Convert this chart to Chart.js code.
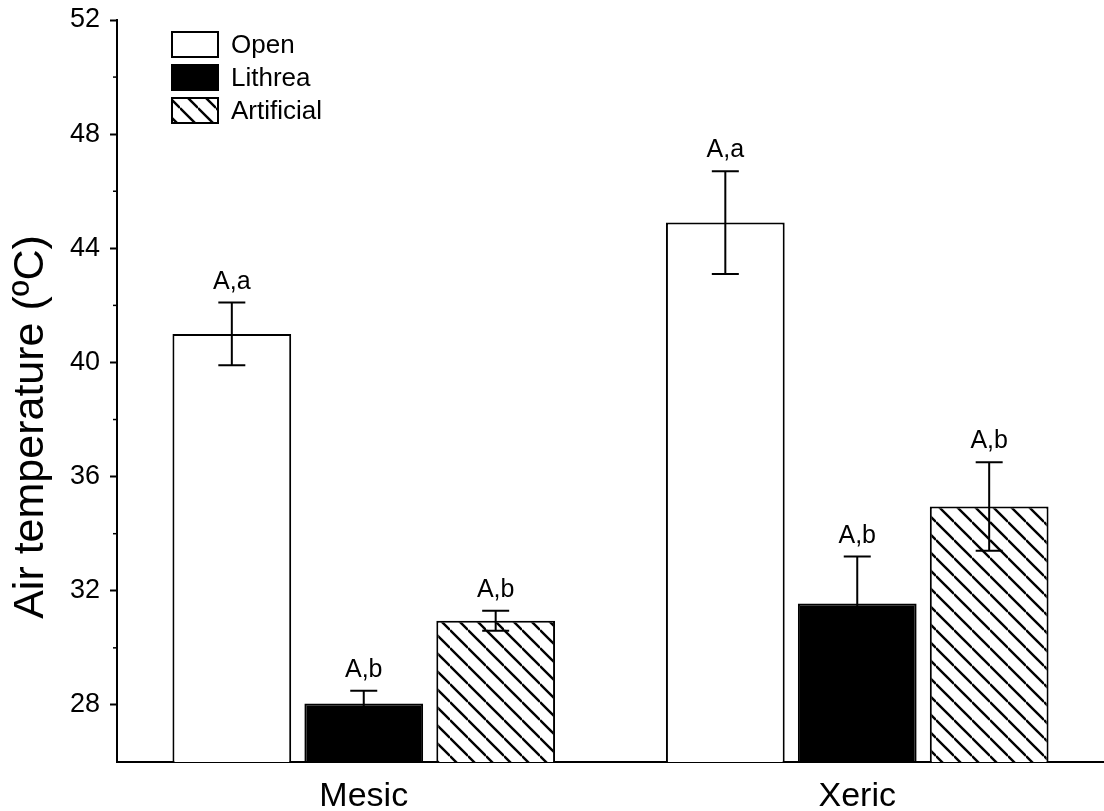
<!DOCTYPE html>
<html>
<head>
<meta charset="utf-8">
<title>Air temperature by site</title>
<script src="https://cdn.jsdelivr.net/npm/chart.js@4/dist/chart.umd.min.js"></script>
<style>
  body { margin: 0; background: #fff; }
  #chart { display: block; }
</style>
</head>
<body>
<canvas id="chart" width="1104" height="811"></canvas>
<script>
// Chart data
const categories = ['Mesic', 'Xeric'];
const seriesNames = ['Open', 'Lithrea', 'Artificial'];
const openValues = [41.0, 44.9];
const openErrors = [1.1, 1.8];
const lithreaValues = [28.05, 31.55];
const lithreaErrors = [0.45, 1.65];
const artificialValues = [30.95, 34.95];
const artificialErrors = [0.35, 1.55];
const openLetters = ['A,a', 'A,a'];
const lithreaLetters = ['A,b', 'A,b'];
const artificialLetters = ['A,b', 'A,b'];
const yTicks = [28, 32, 36, 40, 44, 48, 52];
const yMinorTicks = [30, 34, 38, 42, 46, 50];
const yTitle = 'Air temperature (\u00baC)';

const FONT = '"Liberation Sans", Arial, Helvetica, sans-serif';

// Diagonal hatch fill for the "Artificial" bars
function makeHatch() {
  const s = 18;
  const c = document.createElement('canvas');
  c.width = s; c.height = s;
  const g = c.getContext('2d');
  g.fillStyle = '#fff';
  g.fillRect(0, 0, s, s);
  g.strokeStyle = '#000';
  g.lineWidth = 2.4;
  [-s, 0, s].forEach(k => {
    g.beginPath();
    g.moveTo(0, k);
    g.lineTo(s, s + k);
    g.stroke();
  });
  return g.createPattern(c, 'repeat');
}
const hatch = makeHatch();

// Error bars and significance letters
const errorBarPlugin = {
  id: 'errorBars',
  afterDatasetsDraw(chart) {
    const ctx = chart.ctx;
    const y = chart.scales.y;
    ctx.save();
    ctx.strokeStyle = '#000';
    ctx.lineWidth = 2;
    ctx.fillStyle = '#000';
    ctx.font = '25px ' + FONT;
    ctx.textAlign = 'center';
    ctx.textBaseline = 'alphabetic';
    chart.data.datasets.forEach((ds, i) => {
      const meta = chart.getDatasetMeta(i);
      meta.data.forEach((bar, j) => {
        const v = ds.data[j];
        const e = ds.errors[j];
        const yTop = y.getPixelForValue(v + e);
        const yBot = y.getPixelForValue(v - e);
        const x = bar.x;
        ctx.beginPath();
        ctx.moveTo(x, yTop); ctx.lineTo(x, yBot);
        ctx.moveTo(x - 13.5, yTop); ctx.lineTo(x + 13.5, yTop);
        ctx.moveTo(x - 13.5, yBot); ctx.lineTo(x + 13.5, yBot);
        ctx.stroke();
        ctx.fillText(ds.letters[j], x, yTop - 14);
      });
    });
    ctx.restore();
  }
};

// Minor ticks, y title and legend box
const extrasPlugin = {
  id: 'extras',
  afterDraw(chart) {
    const ctx = chart.ctx;
    const y = chart.scales.y;
    const left = chart.chartArea.left;
    ctx.save();
    ctx.strokeStyle = '#000';
    ctx.lineWidth = 1.5;
    yMinorTicks.forEach(v => {
      const py = y.getPixelForValue(v);
      ctx.beginPath();
      ctx.moveTo(left - 4, py); ctx.lineTo(left, py);
      ctx.stroke();
    });

    // y axis title
    ctx.save();
    ctx.translate(31, 427);
    ctx.rotate(-Math.PI / 2);
    ctx.fillStyle = '#000';
    ctx.font = '43px ' + FONT;
    ctx.textAlign = 'center';
    ctx.textBaseline = 'middle';
    ctx.fillText(yTitle, 0, 0);
    ctx.restore();

    // legend
    ctx.font = '26px ' + FONT;
    ctx.textAlign = 'left';
    ctx.textBaseline = 'middle';
    chart.data.datasets.forEach((ds, i) => {
      const bx = 172, by = 32 + i * 33, bw = 46, bh = 25;
      ctx.fillStyle = ds.backgroundColor;
      ctx.fillRect(bx, by, bw, bh);
      ctx.lineWidth = 2;
      ctx.strokeRect(bx, by, bw, bh);
      ctx.fillStyle = '#000';
      ctx.fillText(ds.label, 231, by + bh / 2 + 1);
    });
    ctx.restore();
  }
};

const chart = new Chart(document.getElementById('chart'), {
  type: 'bar',
  data: {
    labels: categories,
    datasets: [
      { label: seriesNames[0], data: openValues, errors: openErrors, letters: openLetters,
        backgroundColor: '#ffffff', borderColor: '#000', borderWidth: 2 },
      { label: seriesNames[1], data: lithreaValues, errors: lithreaErrors, letters: lithreaLetters,
        backgroundColor: '#000000', borderColor: '#000', borderWidth: 2 },
      { label: seriesNames[2], data: artificialValues, errors: artificialErrors, letters: artificialLetters,
        backgroundColor: hatch, borderColor: '#000', borderWidth: 2 }
    ]
  },
  options: {
    responsive: false,
    animation: false,
    layout: { padding: { top: 20, right: 0, left: 0, bottom: 0 } },
    categoryPercentage: 0.802,
    barPercentage: 0.9,
    plugins: {
      legend: { display: false },
      tooltip: { enabled: false }
    },
    scales: {
      x: {
        grid: { display: false, drawTicks: false },
        border: { display: true, color: '#000', width: 2 },
        ticks: { color: '#000', font: { family: FONT, size: 34 }, padding: 14 },
        afterFit(scale) { scale.height = 49; }
      },
      y: {
        min: 26,
        max: 52,
        afterBuildTicks(axis) { axis.ticks = yTicks.map(v => ({ value: v })); },
        grid: { display: true, drawOnChartArea: false, tickLength: 7, tickColor: '#000', tickWidth: 2 },
        border: { display: true, color: '#000', width: 2 },
        ticks: { color: '#000', font: { family: FONT, size: 27 }, padding: 10 },
        afterFit(scale) {
          scale.width = 117;
          scale.paddingTop = 0;
          scale.paddingBottom = 0;
        }
      }
    }
  },
  plugins: [errorBarPlugin, extrasPlugin]
});
</script>
</body>
</html>
